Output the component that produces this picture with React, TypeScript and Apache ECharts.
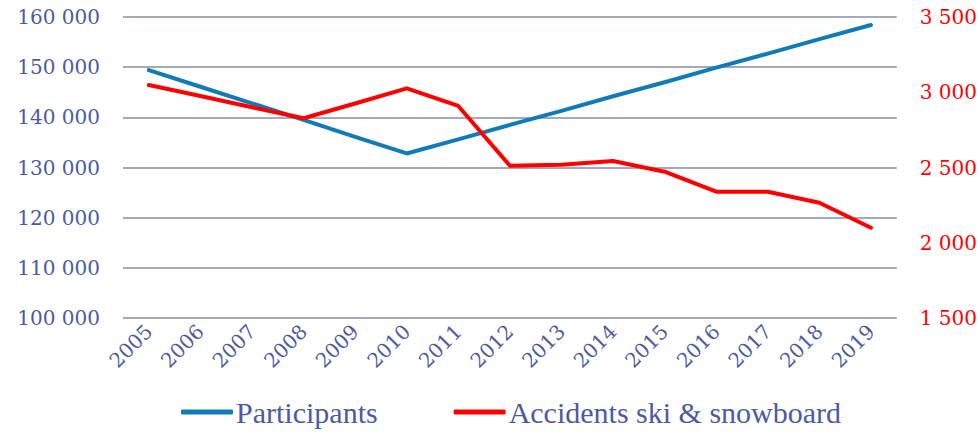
import React, { useEffect, useRef } from "react";
import * as echarts from "echarts";

const years = ["2005", "2006", "2007", "2008", "2009", "2010", "2011", "2012", "2013", "2014", "2015", "2016", "2017", "2018", "2019"];
const participants = [149400, 146100, 142800, 139500, 136100, 132800, 135600, 138500, 141300, 144200, 147000, 149900, 152700, 155600, 158400];
const accidents = [3048, 2975, 2900, 2827, 2925, 3026, 2909, 2512, 2519, 2543, 2472, 2339, 2339, 2266, 2100];

const fmt = (v: number) => String(v).replace(/\B(?=(\d{3})+(?!\d))/g, " ");

export default function App() {
  const ref = useRef<HTMLDivElement>(null);
  useEffect(() => {
    if (!ref.current) return;
    const chart = echarts.init(ref.current, null, { renderer: "svg" });
    const labelFont = "DejaVu Serif";
    chart.setOption({
      animation: false,
      backgroundColor: "#ffffff",
      grid: { left: 123, right: 83, top: 17, bottom: 116 },
      legend: {
        bottom: 2,
        left: 176,
        itemWidth: 52,
        itemHeight: 5,
        itemGap: 76,
        icon: "roundRect",
        textStyle: { fontFamily: "Liberation Serif", fontSize: 30, color: "#4A5BA5", padding: [0, 0, 0, -2] },
        data: ["Participants", "Accidents ski & snowboard"],
      },
      xAxis: {
        type: "category",
        data: years,
        boundaryGap: true,
        axisLine: { show: false },
        axisTick: { show: false },
        axisLabel: {
          rotate: 45,
          interval: 0,
          margin: 10,
          fontFamily: labelFont,
          fontSize: 20,
          color: "#4A5BA5",
        },
      },
      yAxis: [
        {
          type: "value",
          min: 100000,
          max: 160000,
          interval: 10000,
          axisLine: { show: false },
          axisTick: { show: false },
          axisLabel: { margin: 23, fontFamily: labelFont, fontSize: 20, color: "#4A5BA5", formatter: fmt },
          splitLine: { lineStyle: { color: "#A4A9BE", width: 2 } },
        },
        {
          type: "value",
          min: 1500,
          max: 3500,
          interval: 500,
          position: "right",
          axisLine: { show: false },
          axisTick: { show: false },
          axisLabel: { margin: 23, fontFamily: labelFont, fontSize: 20, color: "#FF0000", formatter: fmt },
          splitLine: { show: false },
        },
      ],
      series: [
        {
          name: "Participants",
          type: "line",
          data: participants,
          yAxisIndex: 0,
          symbol: "none",
          color: "#0F7BB8",
          lineStyle: { width: 4, color: "#0F7BB8", cap: "round", join: "round" },
        },
        {
          name: "Accidents ski & snowboard",
          type: "line",
          data: accidents,
          yAxisIndex: 1,
          symbol: "none",
          color: "#FF0000",
          lineStyle: { width: 4, color: "#FF0000", cap: "round", join: "round" },
        },
      ],
    });
    return () => chart.dispose();
  }, []);
  return <div ref={ref} style={{ width: 980, height: 434, position: "absolute", left: 0, top: 0 }} />;
}
